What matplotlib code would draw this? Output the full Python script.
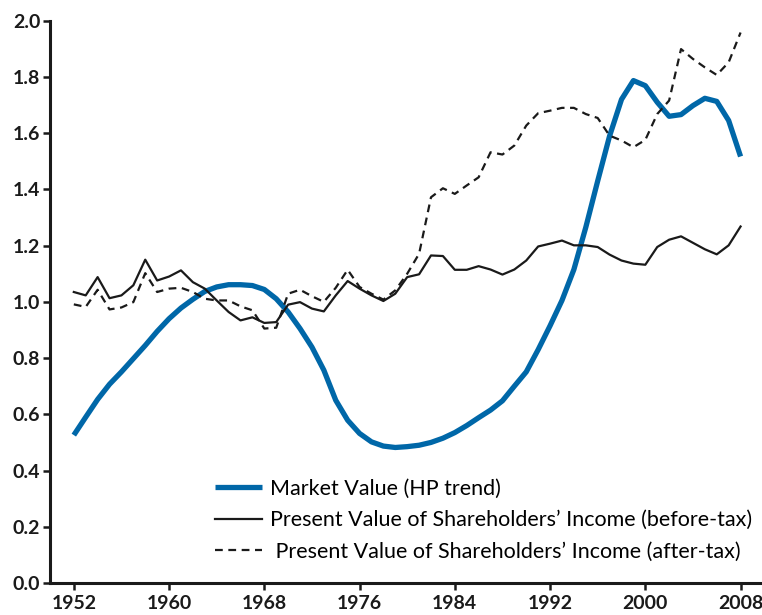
import matplotlib
matplotlib.use("Agg")
import matplotlib.pyplot as plt

plt.rcParams['font.family'] = ['Lato', 'DejaVu Sans']

years = list(range(1952, 2009))

market_hp = [0.526, 0.590, 0.653, 0.707, 0.751, 0.798, 0.845, 0.895, 0.940, 0.978,
             1.009, 1.037, 1.053, 1.061, 1.061, 1.058, 1.044, 1.011, 0.964, 0.905,
             0.839, 0.757, 0.650, 0.579, 0.532, 0.502, 0.487, 0.482, 0.485, 0.490,
             0.500, 0.515, 0.535, 0.560, 0.588, 0.615, 0.648, 0.700, 0.751, 0.830,
             0.915, 1.005, 1.115, 1.265, 1.430, 1.590, 1.720, 1.787, 1.769, 1.710,
             1.660, 1.666, 1.698, 1.724, 1.713, 1.645, 1.517]

pv_before = [1.035, 1.023, 1.088, 1.013, 1.023, 1.059, 1.150, 1.076, 1.090, 1.112,
             1.070, 1.047, 1.005, 0.964, 0.934, 0.945, 0.925, 0.928, 0.990, 0.999,
             0.976, 0.966, 1.023, 1.074, 1.047, 1.023, 1.003, 1.029, 1.088, 1.098,
             1.165, 1.163, 1.114, 1.114, 1.127, 1.115, 1.097, 1.115, 1.147, 1.197,
             1.207, 1.218, 1.201, 1.201, 1.195, 1.168, 1.147, 1.136, 1.132, 1.195,
             1.221, 1.233, 1.210, 1.187, 1.169, 1.201, 1.268]

pv_after = [0.991, 0.982, 1.043, 0.973, 0.980, 0.999, 1.102, 1.035, 1.047, 1.050,
            1.035, 1.011, 1.005, 1.005, 0.984, 0.970, 0.905, 0.908, 1.029, 1.043,
            1.020, 1.000, 1.050, 1.114, 1.053, 1.029, 1.008, 1.041, 1.100, 1.171,
            1.372, 1.404, 1.384, 1.414, 1.443, 1.532, 1.524, 1.556, 1.627, 1.671,
            1.680, 1.690, 1.690, 1.668, 1.654, 1.591, 1.574, 1.550, 1.576, 1.668,
            1.716, 1.899, 1.864, 1.834, 1.807, 1.852, 1.958]

xticks = [1952, 1960, 1968, 1976, 1984, 1992, 2000, 2008]
yticks = [0.0, 0.2, 0.4, 0.6, 0.8, 1.0, 1.2, 1.4, 1.6, 1.8, 2.0]

fig = plt.figure(figsize=(7.62, 6.15), dpi=100)
ax = fig.add_axes([50/762, 1 - 583/615, 712/762, (583 - 20.7)/615])

ax.plot(years, market_hp, color="#0067a8", lw=3.8, solid_capstyle="butt",
        label="Market Value (HP trend)")
ax.plot(years, pv_before, color="#1a1a1a", lw=1.6,
        label="Present Value of Shareholders\u2019 Income (before-tax)")
ax.plot(years, pv_after, color="#1a1a1a", lw=1.6, ls=(0, (3.5, 2.5)),
        label=" Present Value of Shareholders\u2019 Income (after-tax)")

ax.set_xlim(1950, 2009.8)
ax.set_ylim(0, 2.0)
ax.set_xticks(xticks)
ax.set_yticks(yticks)
ax.set_yticklabels([f"{v:.1f}" for v in yticks])

for s in ["top", "right"]:
    ax.spines[s].set_visible(False)
for s in ["left", "bottom"]:
    ax.spines[s].set_linewidth(2.2)
    ax.spines[s].set_color("#1a1a1a")

ax.tick_params(axis="both", width=1.8, length=5, color="#1a1a1a",
               labelsize=14, labelcolor="#1a1a1a")
ax.tick_params(axis="y", pad=2)
for lab in ax.get_xticklabels() + ax.get_yticklabels():
    lab.set_fontweight("bold")

ax.legend(loc="upper left", bbox_to_anchor=((215 - 50) / 712, (583 - 479) / 562.3),
          frameon=False, fontsize=15.5, handlelength=2.2, handletextpad=0.37,
          labelspacing=0.52, borderpad=0, borderaxespad=0)

plt.savefig("out.png", dpi=100)
